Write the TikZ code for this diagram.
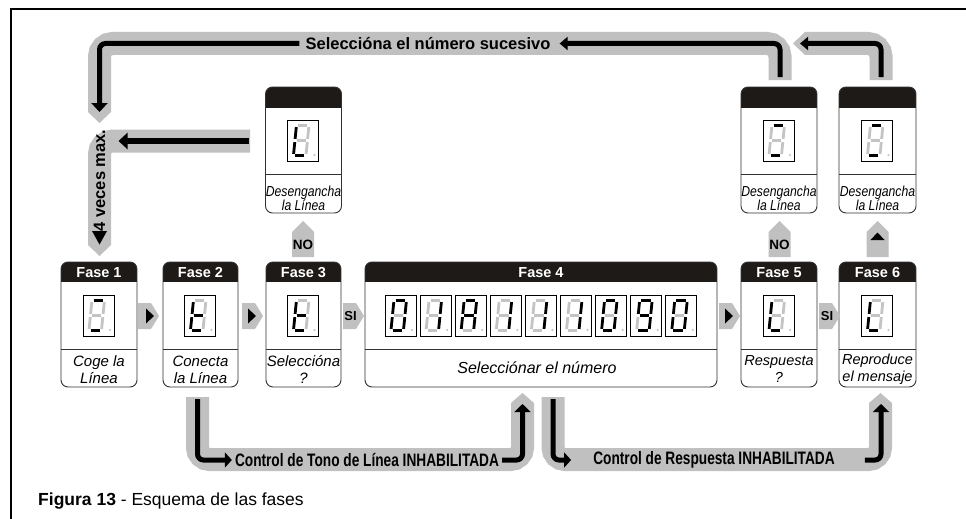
\documentclass[tikz,border=0pt]{standalone}
\usepackage{fontspec}
\setmainfont{Liberation Sans}
\newfontfamily\condsans[FakeStretch=0.84]{Liberation Sans}
\newfontfamily\narrowsans[FakeStretch=0.76]{Liberation Sans}
\usetikzlibrary{arrows.meta,calc}

\definecolor{bandgrey}{RGB}{192,192,192}
\definecolor{hdrblack}{RGB}{30,26,24}
\definecolor{boxline}{RGB}{50,50,50}
\colorlet{seg1}{black}
\definecolor{seg0}{RGB}{196,196,196}

% seven-segment display: #1 x, #2 y (top left), #3..#9 = segments a..g (1 lit, 0 off)
\newcommand{\sevseg}[9]{%
  \begin{scope}[shift={(#1,#2)}]
    \draw[line width=0.8pt] (0,0) rectangle (31,41);
    \begin{scope}[xslant=0.1, line width=2.8pt]
      \draw[seg#3] (11.1,5.5) -- (20.4,5.5);
      \draw[seg#4] (22,7.1) -- (22,18.9);
      \draw[seg#5] (22,22.1) -- (22,33.9);
      \draw[seg#6] (11.1,35.5) -- (20.4,35.5);
      \draw[seg#7] (9.5,22.1) -- (9.5,33.9);
      \draw[seg#8] (9.5,7.1) -- (9.5,18.9);
      \draw[seg#9] (11.1,20.5) -- (20.4,20.5);
      \fill[seg0] (30.5,35) circle (1.2);
    \end{scope}
  \end{scope}}

% phase box: #1 name, #2 centre x, #3 width, #4 top, #5 header bottom, #6 divider, #7 bottom
\newcommand{\phasebox}[7]{%
  \begin{scope}
    \clip[rounded corners=7pt] ({#2-#3/2},#4) rectangle ({#2+#3/2},#7);
    \fill[hdrblack] ({#2-#3/2},#4) rectangle ({#2+#3/2},#5);
  \end{scope}
  \draw[line width=0.9pt, boxline] ({#2-#3/2},#6) -- ({#2+#3/2},#6);
  \node[phbox, minimum width=#3pt, minimum height={#7pt-#4pt}] (#1) at (#2,{(#4+#7)/2}) {};
}

\newcommand{\rpent}[1]{\fill[bandgrey] (#1,303) -- ++(13,0) -- ++(8,13) -- ++(-8,13) -- ++(-13,0) -- cycle;}
\newcommand{\upent}[1]{\fill[bandgrey] ({#1-11},257) -- ++(0,-25) -- ++(11,-11) -- ++(11,11) -- ++(0,25) -- cycle;}

\begin{document}
\begin{tikzpicture}[x=1pt,y=-1pt,
  phbox/.style={rectangle, draw=boxline, line width=0.9pt, rounded corners=7pt, inner sep=0pt, outer sep=0pt},
  hdrtxt/.style={text=white, font=\fontsize{14.5}{16}\selectfont\bfseries, inner sep=0pt},
  bodytxt/.style={font=\fontsize{15}{17}\selectfont\itshape, align=center, inner sep=0pt},
  condtxt/.style={font=\condsans\fontsize{14.5}{14}\selectfont\itshape, align=center, inner sep=0pt},
  bandtxt/.style={font=\fontsize{16.5}{18}\selectfont\bfseries, inner sep=0pt},
  bandtxtn/.style={font=\narrowsans\fontsize{18}{19}\selectfont\bfseries, inner sep=0pt},
  smalltxt/.style={font=\fontsize{13}{14}\selectfont\bfseries, inner sep=0pt},
  band/.style={draw=bandgrey, line width=23pt, rounded corners=13pt},
  blk/.style={draw=black, line width=5pt, rounded corners=6pt},
]
\useasboundingbox (0,0) rectangle (966,519);
\fill[white] (0,0) rectangle (966,519);

% frame
\draw[line width=2.5pt] (11,519) -- (11,9) -- (966,9);

% ---------- grey bands ----------
\draw[band] (780,80) -- (780,43.5) -- (99.5,43.5) -- (99.5,112);
\fill[bandgrey] (88,112) -- (111,112) -- (99.5,123) -- cycle;
\draw[band] (881,80) -- (881,43.5) -- (805,43.5);
\fill[bandgrey] (805,32) -- (805,55) -- (793,43.5) -- cycle;
\draw[band] (250,141) -- (99.5,141) -- (99.5,245);
\fill[bandgrey] (88,245) -- (111,245) -- (99.5,256) -- cycle;
\draw[band, rounded corners=12pt] (197.5,397) -- (197.5,459.5) -- (522.5,459.5) -- (522.5,403);
\fill[bandgrey] (511,403) -- (534,403) -- (522.5,393) -- cycle;
\draw[band, rounded corners=12pt] (553,397) -- (553,459.5) -- (880.5,459.5) -- (880.5,403);
\fill[bandgrey] (869,403) -- (892,403) -- (880.5,393) -- cycle;

% ---------- boxes ----------
\phasebox{u3}{303.5}{76}{87}{108}{174}{213}
\phasebox{u5}{779}{76}{87}{108}{174}{213}
\phasebox{u6}{877.5}{77}{87}{108}{174}{213}
\phasebox{f1}{99}{76}{262}{282}{349}{387}
\phasebox{f2}{200.5}{75}{262}{282}{349}{387}
\phasebox{f3}{303.5}{75}{262}{282}{349}{387}
\phasebox{f4}{541}{352}{262}{282}{349}{387}
\phasebox{f5}{779}{76}{262}{282}{349}{387}
\phasebox{f6}{877.5}{77}{262}{282}{349}{387}

\node[hdrtxt] (f1h) at (99,272.5) {Fase 1};
\node[hdrtxt] (f2h) at (200.5,272.5) {Fase 2};
\node[hdrtxt] (f3h) at (303.5,272.5) {Fase 3};
\node[hdrtxt] (f4h) at (541,272.5) {Fase 4};
\node[hdrtxt] (f5h) at (779,272.5) {Fase 5};
\node[hdrtxt] (f6h) at (877.5,272.5) {Fase 6};

% displays
\sevseg{83}{295}{1}{0}{0}{1}{0}{0}{0}
\sevseg{184.5}{295}{0}{0}{0}{1}{1}{1}{1}
\sevseg{287.5}{295}{0}{0}{0}{1}{1}{1}{1}
\sevseg{385}{295}{1}{1}{1}{1}{1}{1}{0}
\sevseg{420.1}{295}{0}{1}{1}{0}{0}{0}{0}
\sevseg{455.2}{295}{1}{1}{1}{0}{1}{1}{1}
\sevseg{490.3}{295}{0}{1}{1}{0}{0}{0}{0}
\sevseg{525.4}{295}{0}{1}{1}{0}{0}{0}{0}
\sevseg{560.5}{295}{0}{1}{1}{0}{0}{0}{0}
\sevseg{595.6}{295}{1}{1}{1}{1}{1}{1}{0}
\sevseg{630.7}{295}{1}{1}{1}{1}{0}{1}{1}
\sevseg{665.8}{295}{1}{1}{1}{1}{1}{1}{0}
\sevseg{763}{295}{0}{0}{0}{1}{1}{1}{0}
\sevseg{861.5}{295}{0}{0}{0}{1}{1}{1}{0}
\sevseg{287.5}{120}{0}{0}{0}{1}{1}{1}{0}
\sevseg{763}{120}{1}{0}{0}{1}{0}{0}{0}
\sevseg{861.5}{120}{1}{0}{0}{1}{0}{0}{0}

% texts in boxes
\node[bodytxt] (f1t) at (99,369.5) {Coge la\\Línea};
\node[bodytxt] (f2t) at (200.5,369.5) {Conecta\\la Línea};
\node[bodytxt] (f3t) at (303.5,369) {Seleccióna\\?};
\node[bodytxt, font=\fontsize{16}{18}\selectfont\itshape] (f4t) at (537,368) {Selecciónar el número};
\node[bodytxt, font=\fontsize{14.5}{17}\selectfont\itshape] (f5t) at (779,369) {Respuesta\\?};
\node[bodytxt, font=\fontsize{14.5}{17}\selectfont\itshape] (f6t) at (877.5,369) {Reproduce\\el mensaje};
\node[condtxt] (u3t) at (303.5,198) {Desengancha\\la Línea};
\node[condtxt] (u5t) at (779,198) {Desengancha\\la Línea};
\node[condtxt] (u6t) at (877.5,198) {Desengancha\\la Línea};

% ---------- small connectors ----------
\rpent{138}
\fill (146,308.5) -- (146,323.5) -- (154,316) -- cycle;
\rpent{242}
\fill (248,308.5) -- (248,323.5) -- (256,316) -- cycle;
\rpent{343}
\node[smalltxt] (si34) at (350.5,316) {SI};
\rpent{719}
\fill (725,308.5) -- (725,323.5) -- (733,316) -- cycle;
\rpent{819}
\node[smalltxt] (si56) at (827,316) {SI};

\upent{303}
\node[smalltxt, font=\fontsize{13.5}{14}\selectfont\bfseries] (no3) at (303,245) {NO};
\upent{779.5}
\node[smalltxt, font=\fontsize{13.5}{14}\selectfont\bfseries] (no5) at (779.5,245) {NO};
\upent{877.5}
\fill (870.5,240) -- (884.5,240) -- (877.5,232.5) -- cycle;

% ---------- band texts ----------
\node[bandtxt] (tsel) at (428,43.5) {Seleccióna el número sucesivo};
\node[bandtxt, rotate=90] (tveces) at (99.5,180.5) {4 veces max.};
\fill (92,231) -- (107,231) -- (99.5,244.5) -- cycle;
\node[bandtxtn] (ttono) at (367,460) {Control de Tono de Línea INHABILITADA};
\node[bandtxtn] (tresp) at (714,460) {Control de Respuesta INHABILITADA};

% ---------- black arrows ----------
\draw[blk, -{Triangle[length=8pt,width=13pt]}] ($(u5.north)+(1,-10)$) |- ($(tsel.east)+(9,0)$);
\draw[blk, -{Triangle[length=9pt,width=16pt]}] ($(tsel.west)+(-6,0)$) -| ($(f1.north)+(0.5,-150)$);
\coordinate (top6end) at (800,43.5);
\draw[blk, -{Triangle[length=8pt,width=13pt]}] ($(u6.north)+(3.5,-10)$) |- (top6end);
\draw[blk, line width=6pt, -{Triangle[length=9pt,width=16pt]}] ($(u3.west)+(-17,-9)$) -- ++(-130,0);
\draw[blk, -{Triangle[length=7pt,width=15pt]}] ($(f2.south)+(-3,12)$) |- ($(ttono.west)+(-3,0)$);
\draw[blk, -{Triangle[length=8pt,width=16pt]}] ($(ttono.east)+(3,0)$) -| ($(f4.south)+(-18.5,17)$);
\draw[blk, -{Triangle[length=7pt,width=15pt]}] ($(f4.south)+(12,12)$) |- ($(tresp.west)+(-22,0)$);
\draw[blk, -{Triangle[length=8pt,width=16pt]}] ($(tresp.east)+(30,0)$) -| ($(f6.south)+(3.5,17)$);

% caption
\node[anchor=base west, inner sep=0pt, font=\fontsize{17.5}{20}\selectfont] (cap) at (38,505) {\textbf{Figura 13} - Esquema de las fases};
\end{tikzpicture}
\end{document}
